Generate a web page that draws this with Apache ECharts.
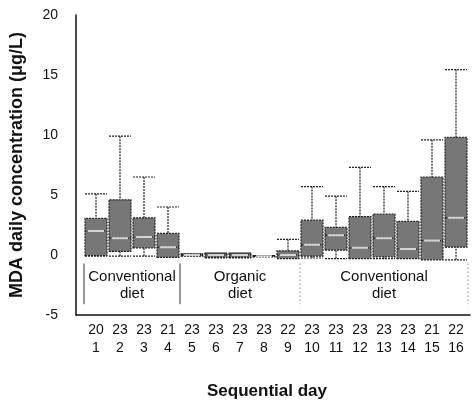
<!DOCTYPE html>
<html>
<head>
<meta charset="utf-8">
<script src="https://cdn.jsdelivr.net/npm/echarts@6/dist/echarts.min.js"></script>
<style>html,body{margin:0;padding:0;background:#fff}#c{width:472px;height:400px}</style>
</head>
<body>
<div id="c"></div>
<script>
// ---- data ----
const days = ['1','2','3','4','5','6','7','8','9','10','11','12','13','14','15','16'];
const nPerDay = ['20','23','23','21','23','23','23','23','22','23','23','23','23','23','21','22'];
// [lower whisker, Q1, median, Q3, upper whisker] (µg/L)
const lowerWhisker = [-0.1, -0.1, -0.1, -0.2, -0.1, -0.25, -0.25, -0.15, -0.3, -0.25, -0.3, -0.3, -0.3, -0.3, -0.4, -0.4];
const q1 =           [-0.05, 0.3, 0.6, -0.2, -0.1, -0.2, -0.2, -0.15, -0.3, -0.1, 0.4, -0.3, -0.15, -0.3, -0.4, 0.65];
const median =       [2.0, 1.4, 1.5, 0.65, 0.0, 0.0, 0.0, -0.1, 0.0, 0.85, 1.65, 0.6, 1.4, 0.5, 1.2, 3.1];
const q3 =           [3.05, 4.6, 3.1, 1.8, 0.1, 0.15, 0.15, -0.05, 0.35, 2.9, 2.3, 3.2, 3.4, 2.8, 6.5, 9.8];
const upperWhisker = [5.1, 9.9, 6.5, 4.0, 0.1, 0.15, 0.15, -0.05, 1.3, 5.7, 4.9, 7.3, 5.7, 5.3, 9.6, 15.45];
const yTicks = [-5, 0, 5, 10, 15, 20];
const groups = [
  {name: 'Conventional\ndiet', from: 0, to: 3},
  {name: 'Organic\ndiet', from: 4, to: 8},
  {name: 'Conventional\ndiet', from: 9, to: 15}
];
const yTitle = 'MDA daily concentration (\u03bcg/L)';
const xTitle = 'Sequential day';

const FONT = "'Liberation Sans',Arial,sans-serif";
const boxData = days.map((d, i) => [lowerWhisker[i], q1[i], median[i], q3[i], upperWhisker[i]]);
const xLabels = days.map((d, i) => nPerDay[i] + '\n' + d);

const chart = echarts.init(document.getElementById('c'), null, {renderer: 'canvas'});
chart.setOption({
  animation: false,
  backgroundColor: '#fff',
  grid: [
    {left: 76, right: 2, top: 15, bottom: 85, containLabel: false, outerBoundsMode: 'none'},
    {left: 84, right: 4, top: 15, bottom: 85, containLabel: false, outerBoundsMode: 'none'}
  ],
  xAxis: [
    {gridIndex: 0, type: 'value', min: 0, max: 1,
     axisLine: {show: true, onZero: false, lineStyle: {color: '#111', width: 1.5}},
     axisTick: {show: false}, axisLabel: {show: false}, splitLine: {show: false}},
    {gridIndex: 1, type: 'category', data: xLabels,
     axisLine: {show: false}, axisTick: {show: false}, splitLine: {show: false},
     axisLabel: {interval: 0, margin: 6, fontSize: 14, lineHeight: 18, color: '#111', fontFamily: FONT},
     name: xTitle, nameLocation: 'middle', nameGap: 68,
     nameTextStyle: {fontSize: 17, fontWeight: 'bold', color: '#111', fontFamily: FONT, padding: [0, 18, 0, 0]}}
  ],
  yAxis: [
    {gridIndex: 0, type: 'value', min: yTicks[0], max: yTicks[yTicks.length - 1], interval: 5,
     axisLine: {show: true, lineStyle: {color: '#111', width: 1.5}},
     axisTick: {show: false}, splitLine: {show: false},
     axisLabel: {margin: 18, fontSize: 14, color: '#111', fontFamily: FONT},
     name: yTitle, nameLocation: 'middle', nameGap: 50, nameRotate: 90,
     nameTextStyle: {fontSize: 18, fontWeight: 'bold', color: '#111', fontFamily: FONT}},
    {gridIndex: 1, type: 'value', min: yTicks[0], max: yTicks[yTicks.length - 1], interval: 5, show: false}
  ],
  series: [
    {type: 'boxplot', xAxisIndex: 1, yAxisIndex: 1, data: boxData, boxWidth: [22, 22],
     itemStyle: {color: '#777777', borderColor: '#222', borderWidth: 1.2, borderType: [2, 1]},
     emphasis: {disabled: true}},
    {type: 'scatter', xAxisIndex: 1, yAxisIndex: 1, data: median, symbol: 'rect', symbolSize: [16, 2],
     itemStyle: {color: '#f4f4f4'}, silent: true, z: 5}
  ]
});

// group annotations located via the axes
function px(ci, v) { return chart.convertToPixel({xAxisIndex: 1, yAxisIndex: 1}, [ci, v]); }
const band = px(1, 0)[0] - px(0, 0)[0];
const yTop = px(0, -0.7)[1], yBot = px(0, -4.1)[1];
const graphics = [];
const bounds = [px(0, 0)[0] - band / 2];
groups.forEach(g => bounds.push(px(g.to, 0)[0] + band / 2));
bounds.forEach((x, k) => {
  const solid = k <= 1;
  graphics.push({type: 'line', shape: {x1: x, y1: yTop, x2: x, y2: yBot},
    style: {stroke: solid ? '#333' : '#999', lineWidth: 1, lineDash: solid ? null : [2, 2]}, silent: true});
});
groups.forEach(g => {
  const cx = (px(g.from, 0)[0] + px(g.to, 0)[0]) / 2;
  graphics.push({type: 'text', x: cx, y: yTop + 5,
    style: {text: g.name, fill: '#111', font: '15px ' + FONT, textAlign: 'center', textVerticalAlign: 'top', lineHeight: 17},
    silent: true});
});
chart.setOption({graphic: graphics});
</script>
</body>
</html>
